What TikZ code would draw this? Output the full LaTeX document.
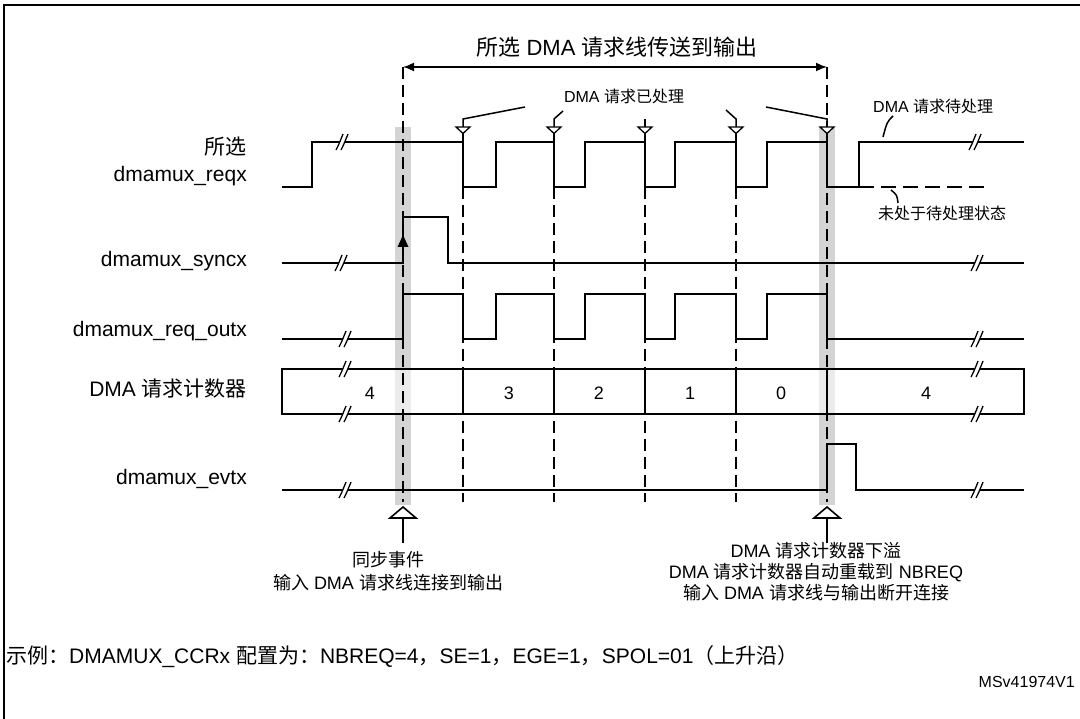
\documentclass[tikz,border=0pt]{standalone}
\usepackage{fontspec}
\setmainfont{Liberation Sans}
\newfontfamily\cjk{Noto Sans CJK SC}
\newcommand\zh[1]{{\cjk #1}}
\usetikzlibrary{arrows.meta}
\begin{document}
\begin{tikzpicture}[x=1pt,y=-1pt,
  sig/.style={line width=2.4pt, line join=miter},
  dsh/.style={line width=2pt, dash pattern=on 12pt off 6pt},
  band/.style={fill=black!17, draw=none},
  lbl/.style={font=\fontsize{21}{24}\selectfont, anchor=base east, inner sep=0pt},
  note/.style={font=\fontsize{16}{19}\selectfont, inner sep=0pt},
  bnote/.style={font=\fontsize{18}{22}\selectfont, inner sep=0pt, anchor=base},
  num/.style={font=\fontsize{18}{20}\selectfont, inner sep=0pt, anchor=base},
  lead/.style={line width=1.5pt},
  opentri/.style={line width=1.3pt, fill=white, line join=miter}]
\useasboundingbox (0,0) rectangle (1080,719);
% frame
\draw[line width=2pt] (4,719) -- (4,5) -- (1080,5);
% grey bands
\fill[band] (395,127) rectangle (411,505);
\fill[band] (819,127) rectangle (835,505);
\fill[black!8] (395,369) rectangle (411,414);
\fill[black!8] (819,369) rectangle (835,414);
% top span arrow
\node[font=\fontsize{22}{26}\selectfont, anchor=base, inner sep=0pt] (title) at (617,56) {\zh{所选} DMA \zh{请求线传送到输出}};
\coordinate (spanL) at (403,67);
\coordinate (spanR) at (827,67);
\draw[line width=1.6pt, {Latex[length=11pt,width=9pt]}-{Latex[length=11pt,width=9pt]}] (spanL) -- (spanR);
% dashed verticals
\draw[dsh] (403,67) -- (403,502);
\draw[dsh] (827,67) -- (827,502);
\foreach \x in {463,554,645,736} \draw[dsh] (\x,187) -- (\x,502);
% signals
\draw[sig] (282,187) -- (312,187) -- (312,142) -- (463,142) -- (463,187) -- (496,187) -- (496,142) -- (554,142) -- (554,187) -- (585,187) -- (585,142) -- (645,142) -- (645,187) -- (675,187) -- (675,142) -- (736,142) -- (736,187) -- (767,187) -- (767,142) -- (827,142) -- (827,187) -- (859,187) -- (859,142) -- (1024,142);
\draw[line width=2pt, dash pattern=on 15pt off 7pt] (859,187) -- (987,187);
\draw[sig] (282,263) -- (403,263) -- (403,217) -- (448,217) -- (448,263) -- (1024,263);
\fill (403,235) -- (408.5,247) -- (397.5,247) -- cycle;
\draw[sig] (282,339) -- (403,339) -- (403,294) -- (463,294) -- (463,339) -- (496,339) -- (496,294) -- (554,294) -- (554,339) -- (585,339) -- (585,294) -- (645,294) -- (645,339) -- (675,339) -- (675,294) -- (736,294) -- (736,339) -- (767,339) -- (767,294) -- (827,294) -- (827,339) -- (1024,339);
\draw[sig] (282,369) rectangle (1024,414);
\foreach \x in {463,554,645,736,827} \draw[sig] (\x,369) -- (\x,414);
\draw[sig] (282,490) -- (827,490) -- (827,444) -- (856,444) -- (856,490) -- (1024,490);
% counter values
\node[num] (c4a) at (370,400) {4};
\node[num] (c3) at (509,400) {3};
\node[num] (c2) at (599,400) {2};
\node[num] (c1) at (690,400) {1};
\node[num] (c0) at (781,400) {0};
\node[num] (c4b) at (926,400) {4};
% break marks
\foreach \bx/\by in {342/142,975/142,341/263,977/263,345/339,977/339,345/369,345/414,977/369,977/414,345/490,977/490}{
  \fill[white] (\bx-6,\by+8) -- (\bx+1,\by-8) -- (\bx+6,\by-8) -- (\bx-1,\by+8) -- cycle;
  \draw[line width=1.3pt] (\bx-6,\by+8) .. controls (\bx-3,\by+2) .. (\bx+1,\by-8) (\bx-1,\by+8) .. controls (\bx+2,\by+2) .. (\bx+6,\by-8);
}
% labels
\node[lbl] (selLbl) at (247,155) {\zh{所选}};
\node[lbl] (reqLbl) at (247,182) {dmamux\_reqx};
\node[lbl] (syncLbl) at (247,267) {dmamux\_syncx};
\node[lbl] (outLbl) at (247,337) {dmamux\_req\_outx};
\node[lbl] (cntLbl) at (247,397) {DMA \zh{请求计数器}};
\node[lbl] (evtLbl) at (247,485) {dmamux\_evtx};
% DMA request served annotations
\node[note, anchor=base] (served) at (624,103) {DMA \zh{请求已处理}};
\draw[lead] (525,107) -- (463,119) -- (463,127);
\draw[lead] (563,111) -- (554,119) -- (554,127);
\draw[lead] (645,119) -- (645,127);
\draw[lead] (726,110) -- (736,119) -- (736,127);
\draw[lead] (766,107) -- (827,119) -- (827,127);
\foreach \x in {463,554,645,736,827}{
  \draw[opentri] (\x-7,127) -- (\x+7,127) -- (\x,133.5) -- cycle;
  \draw[line width=1.5pt] (\x,133.5) -- (\x,142);
}
% pending annotations
\node[note, anchor=base west] (pend) at (873,113) {DMA \zh{请求待处理}};
\draw[lead] (893,116) .. controls (887,122) .. (883,137);
\node[note, anchor=base west] (notpend) at (878,220) {\zh{未处于待处理状态}};
\draw[lead] (891,190) .. controls (897,195) .. (898,203);
% bottom markers
\foreach \x in {403,827}{
  \draw[line width=1.6pt, fill=white, line join=miter] (\x,507) -- (\x+13,518) -- (\x-13,518) -- cycle;
  \draw[line width=1.6pt] (\x,518) -- (\x,543);
}
\node[bnote] (syncA) at (388,566) {\zh{同步事件}};
\node[bnote] (syncB) at (388,589) {\zh{输入} DMA \zh{请求线连接到输出}};
\node[bnote] (ovA) at (816,557) {DMA \zh{请求计数器下溢}};
\node[bnote] (ovB) at (816,578) {DMA \zh{请求计数器自动重载到} NBREQ};
\node[bnote] (ovC) at (816,599) {\zh{输入} DMA \zh{请求线与输出断开连接}};
% example
\node[font=\fontsize{21}{24}\selectfont, anchor=base west, inner sep=0pt] (example) at (6,663) {\zh{示例：}DMAMUX\_CCRx \zh{配置为：}NBREQ=4\zh{，}SE=1\zh{，}EGE=1\zh{，}SPOL=01\zh{（上升沿）}};
\node[font=\fontsize{16}{19}\selectfont, anchor=base east, inner sep=0pt] (code) at (1075,687) {MSv41974V1};
\end{tikzpicture}
\end{document}
